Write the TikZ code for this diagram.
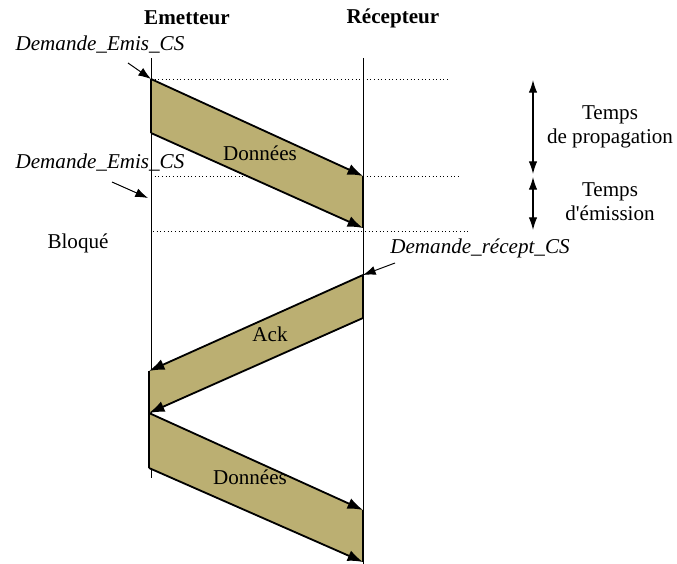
\documentclass[tikz,border=0pt]{standalone}
\usepackage{fontspec}
\setmainfont{Liberation Serif}
\usepackage{xcolor}
\usepackage{tikz}
\usetikzlibrary{arrows.meta}
\definecolor{bandcolor}{RGB}{187,175,114}
\tikzstyle{title} = [font=\fontsize{15}{17}\selectfont\bfseries]
\tikzstyle{txt} = [font=\fontsize{15}{17}\selectfont]
\tikzstyle{itxt} = [font=\fontsize{15}{17}\selectfont\itshape]
\tikzstyle{vline} = [line width=0.6pt]
\tikzstyle{band} = [fill=bandcolor]
\tikzstyle{edge} = [line width=1.3pt, -{Latex[length=11pt,width=8pt]}]
\tikzstyle{side} = [line width=1.3pt]
\tikzstyle{tick} = [dotted, line width=0.6pt]
\tikzstyle{pointer} = [line width=0.7pt, -{Latex[length=9pt,width=6.5pt]}]
\tikzstyle{span} = [line width=0.8pt, {Latex[length=9pt,width=6pt]}-{Latex[length=9pt,width=6pt]}]

\begin{document}
\begin{tikzpicture}[x=0.025cm, y=-0.025cm]
			\useasboundingbox (0,0) rectangle (677,564);
			% lignes de vie
			\node (em) [title] at (187,18) {Emetteur};
			\node (rec) [title] at (393,18) {Récepteur};
			\coordinate (emtop) at (151,58);
			\coordinate (embot) at (151,478);
			\coordinate (rectop) at (363,58);
			\coordinate (recbot) at (363,564);
			\draw [vline] (emtop) -- (embot);
			\draw [vline] (rectop) -- (recbot);
			% repères de temps
			\coordinate (t1) at (450,79);
			\coordinate (t2a) at (151,176);
			\coordinate (t2) at (460,176);
			\coordinate (t3a) at (153,231);
			\coordinate (t3) at (470,231);
			% données 1
			\coordinate (a1) at (151,79);
			\coordinate (a2) at (151,133);
			\coordinate (b1) at (363,176);
			\coordinate (b2) at (363,228);
			\draw [tick] (a1) -- (t1);
			\draw [tick] (t2a) -- (t2);
			\draw [tick] (t3a) -- (t3);
			\fill [band] (a1) -- (b1) -- (b2) -- (a2) -- cycle;
			\draw [side] (a1) -- (a2);
			\draw [side] (b1) -- (b2);
			\draw [edge] (a1) -- (b1);
			\draw [edge] (a2) -- (b2);
			\node (d1) [txt] at (260,153) {Données};
			% ack
			\coordinate (c1) at (363,275);
			\coordinate (c2) at (363,318);
			\coordinate (e1) at (149,371);
			\coordinate (e2) at (149,413);
			\fill [band] (c1) -- (e1) -- (e2) -- (c2) -- cycle;
			\draw [side] (c1) -- (c2);
			\draw [side] (e1) -- (e2);
			\draw [edge] (c1) -- (e1);
			\draw [edge] (c2) -- (e2);
			\node (ack) [txt] at (270,334) {Ack};
			% données 2
			\coordinate (f2) at (149,468);
			\coordinate (g1) at (363,510);
			\coordinate (g2) at (363,562);
			\fill [band] (e2) -- (g1) -- (g2) -- (f2) -- cycle;
			\draw [side] (e2) -- (f2);
			\draw [side] (g1) -- (g2);
			\draw [edge] (e2) -- (g1);
			\draw [edge] (f2) -- (g2);
			\node (d2) [txt] at (250,477) {Données};
			% demandes
			\node (dem1) [itxt] at (100,45) {Demande\_Emis\_CS};
			\coordinate (p1) at (128,63);
			\draw [pointer] (p1) -- (a1);
			\node (dem2) [itxt] at (100,163) {Demande\_Emis\_CS};
			\coordinate (p2) at (112,182);
			\coordinate (blk) at (148,198);
			\draw [pointer] (p2) -- (blk);
			\node (bloq) [txt] at (78,243) {Bloqué};
			\node (dem3) [itxt] at (480,248) {Demande\_récept\_CS};
			\coordinate (p3) at (395,263);
			\draw [pointer] (p3) -- (c1);
			% durées
			\coordinate (s1) at (533,80);
			\coordinate (s2) at (533,174);
			\coordinate (s3) at (533,177);
			\coordinate (s4) at (533,230);
			\draw [span] (s1) -- (s2);
			\draw [span] (s3) -- (s4);
			\node (prop) [txt, align=center] at (610,127) {Temps\\de propagation};
			\node (emis) [txt, align=center] at (610,202) {Temps\\d\textquotesingle émission};
		\end{tikzpicture}
\end{document}
